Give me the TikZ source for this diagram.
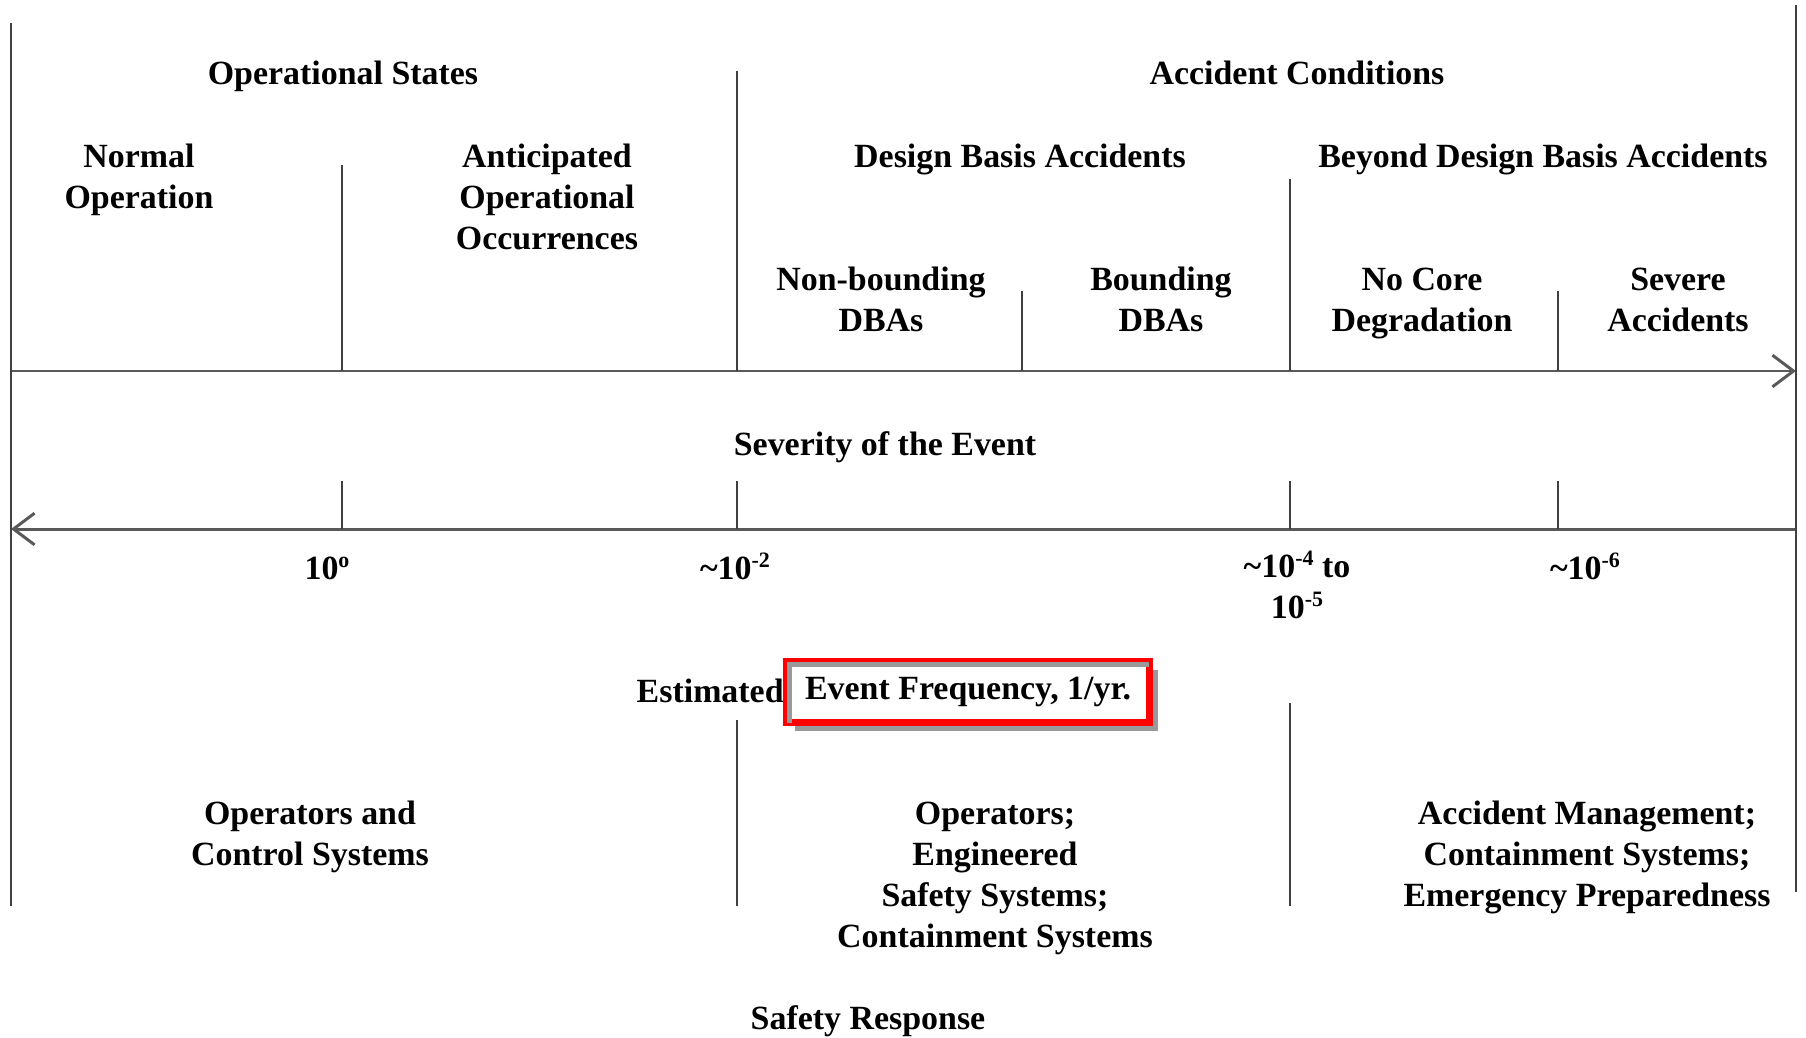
\documentclass[tikz,border=0pt]{standalone}
\usepackage{fontspec}
\setmainfont{Liberation Serif}
\usetikzlibrary{arrows.meta,shadows}
\newcommand{\supr}[1]{\raisebox{6.5pt}{\fontsize{12.5}{12.5}\selectfont #1}}

\begin{document}
\begin{tikzpicture}[x=0.02cm,y=-0.02cm,
    lbl/.style={font=\fontsize{19.3}{23.2}\selectfont\bfseries,align=center,anchor=base,inner sep=0pt},
    sep/.style={line width=1.1pt,black!75},
    axis/.style={line width=1.7pt,black!65,-{Straight Barb[length=12pt,width=18pt]}},
    evbox/.style={lbl,anchor=center,draw=red,line width=4pt,fill=white,
      minimum width=7.26cm,minimum height=1.22cm,
      drop shadow={shadow xshift=5pt,shadow yshift=-5pt,fill=black!40,opacity=1}}]
\useasboundingbox (0,0) rectangle (1806,1038);

% the two axes
\coordinate (sevL) at (11,371);
\coordinate (sevR) at (1796,371);
\coordinate (freqL) at (11,529);
\coordinate (freqR) at (1796,529);
\draw[axis] (sevL)--(sevR);
\draw[axis] (freqR)--(freqL);

% frame and separators
\draw[sep] (11,23)--(11,906);
\draw[sep] (1796,5)--(1796,892);
\draw[sep] (342,165)--(342,371);
\draw[sep] (737,71)--(737,371);
\draw[sep] (1022,291)--(1022,371);
\draw[sep] (1290,179)--(1290,371);
\draw[sep] (1558,291)--(1558,371);
\draw[sep] (342,481)--(342,529);
\draw[sep] (737,481)--(737,529);
\draw[sep] (1290,481)--(1290,529);
\draw[sep] (1558,481)--(1558,529);
\draw[sep] (737,720)--(737,906);
\draw[sep] (1290,703)--(1290,906);

% event classes (multi-line nodes sit on their last baseline)
\node[lbl] (opstates) at (343,84) {Operational States};
\node[lbl] (acccond) at (1297,84) {Accident Conditions};
\node[lbl] (normal) at (139,208) {Normal\\Operation};
\node[lbl] (aoo) at (547,249) {Anticipated\\Operational\\Occurrences};
\node[lbl] (dba) at (1020,167) {Design Basis Accidents};
\node[lbl] (bdba) at (1543,167) {Beyond Design Basis Accidents};
\node[lbl] (nonbound) at (881,331) {Non-bounding\\DBAs};
\node[lbl] (bound) at (1161,331) {Bounding\\DBAs};
\node[lbl] (nocore) at (1422,331) {No Core\\Degradation};
\node[lbl] (severe) at (1678,331) {Severe\\Accidents};
\node[lbl] (severity) at (885,455) {Severity of the Event};

% frequencies
\node[lbl] (f0) at (327,579) {10\supr{o}};
\node[lbl] (f2) at (735,579) {\textasciitilde10\supr{-2}};
\node[lbl] (f4) at (1297,618) {\textasciitilde10\supr{-4} to\\10\supr{-5}};
\node[lbl] (f6) at (1585,579) {\textasciitilde10\supr{-6}};
\node[lbl,anchor=base east] (estim) at (784,702) {Estimated};
\node[evbox] (evfreq) at (968,692) {Event Frequency, 1/yr.};
\draw[black!40,line width=3pt] ([xshift=3.5pt,yshift=2pt]evfreq.south west)
  |- ([xshift=-2pt,yshift=-3.5pt]evfreq.north east);

% safety response
\node[lbl] (opctrl) at (310,865) {Operators and\\Control Systems};
\node[lbl] (openg) at (995,947) {Operators;\\Engineered\\Safety Systems;\\Containment Systems};
\node[lbl] (accmgmt) at (1587,906) {Accident Management;\\Containment Systems;\\Emergency Preparedness};
\node[lbl] (safresp) at (868,1029) {Safety Response};
\end{tikzpicture}
\end{document}
